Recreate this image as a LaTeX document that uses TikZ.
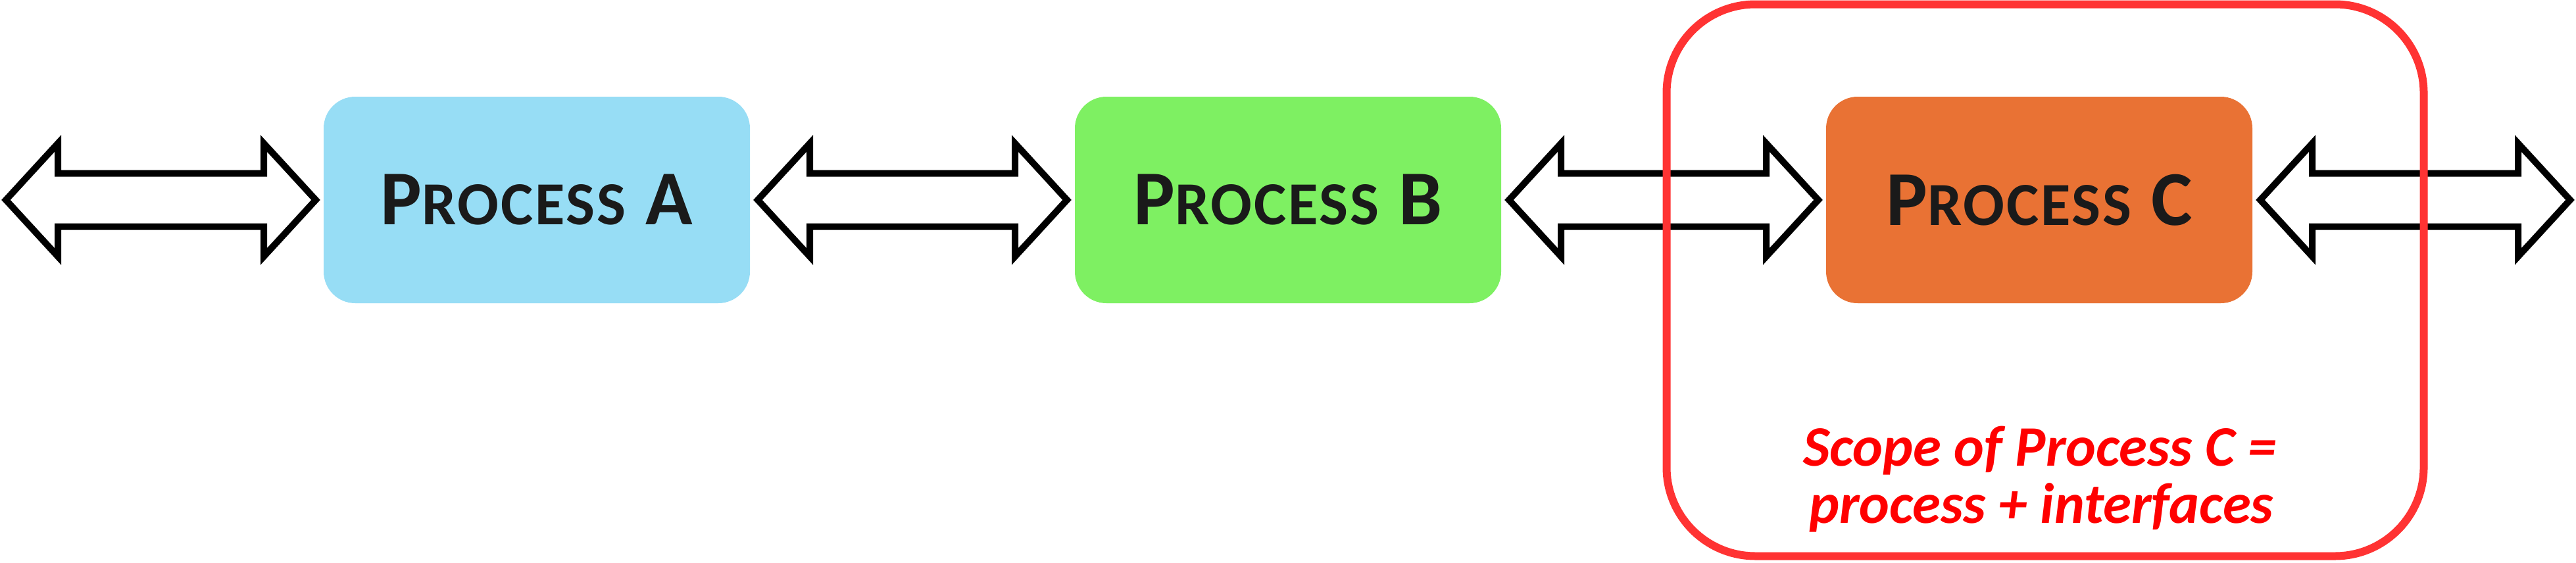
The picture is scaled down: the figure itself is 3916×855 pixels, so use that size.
\documentclass[tikz,border=0pt]{standalone}
\usepackage{fontspec}
\setmainfont{Carlito}
\usetikzlibrary{positioning,calc}

\definecolor{procAblue}{RGB}{151,221,245}
\definecolor{procBgreen}{RGB}{126,240,98}
\definecolor{procCorange}{RGB}{233,114,52}
\definecolor{scopered}{RGB}{255,51,51}
\definecolor{noteRed}{RGB}{255,0,0}
\definecolor{labelink}{RGB}{26,26,26}

% fake small caps title of a process box
\newcommand{\procname}[1]{%
  {\addfontfeature{LetterSpace=3}%
  {\fontsize{118}{118}\selectfont P}{\fontsize{93}{93}\selectfont ROCESS}{\fontsize{118}{118}\selectfont\ #1}}}

\tikzset{
  procbox/.style={rectangle, rounded corners=48pt, minimum width=648pt, minimum height=314pt,
    inner sep=0pt, outer sep=12pt, text=labelink, font=\bfseries},
  fatlink/.style={draw=black, fill=white, line width=10pt, line join=miter,
    to path={(\tikztostart) -- ++(79pt,86pt) -- ++(0pt,-45.5pt)
      -- ($(\tikztotarget)+(-79pt,40.5pt)$) -- ++(0pt,45.5pt) -- (\tikztotarget)
      -- ++(-79pt,-86pt) -- ++(0pt,45.5pt)
      -- ($(\tikztostart)+(79pt,-40.5pt)$) -- ++(0pt,-45.5pt) -- cycle}},
  scopebox/.style={rectangle, draw=scopered, line width=12pt, rounded corners=135pt,
    minimum width=1151pt, minimum height=839pt, inner sep=0pt},
  scopenote/.style={text=noteRed, inner sep=0pt, anchor=base,
    font=\fontsize{87}{87}\selectfont\bfseries\itshape},
}

\begin{document}
\begin{tikzpicture}[x=1pt, y=-1pt]
  \useasboundingbox (0,0) rectangle (3916,855);

  % the three processes
  \node[procbox, fill=procAblue] (procA) at (816,304) {\procname{A}};
  \node[procbox, fill=procBgreen, right=470pt of procA] (procB) {\procname{B}};
  \node[procbox, fill=procCorange, right=470pt of procB] (procC) {\procname{C}};

  % free ends of the outer interfaces
  \coordinate (leftend) at (9,304);
  \coordinate (rightend) at (3907,304);

  % interfaces
  \draw[fatlink] (leftend) to (procA.west);
  \draw[fatlink] (procA.east) to (procB.west);
  \draw[fatlink] (procB.east) to (procC.west);
  \draw[fatlink] (procC.east) to (rightend);

  % scope of process C
  \node[scopebox] (scope) at (3109,426) {};
  \node[scopenote] (scopeline1) at (3101,708) {Scope of Process C =};
  \node[scopenote] (scopeline2) at (3103,795) {process + interfaces};
\end{tikzpicture}
\end{document}
